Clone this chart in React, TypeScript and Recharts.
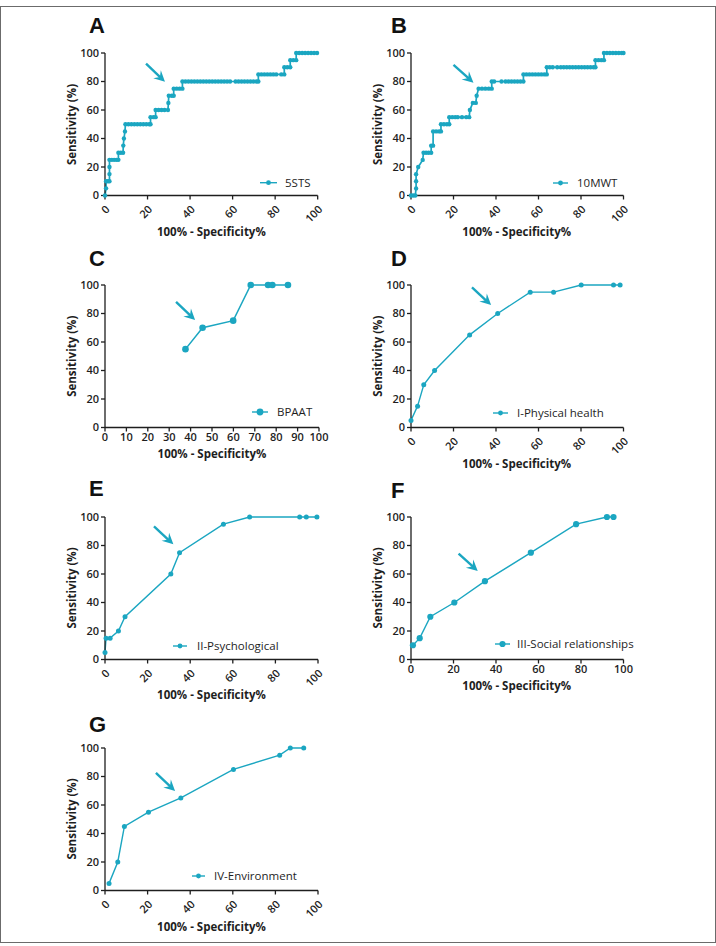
import React from 'react';
import { LineChart, Line, XAxis, YAxis, ReferenceLine } from 'recharts';

const CYAN = '#1ba6c1';
const INK = '#1e1e1e';
const SANS = '"Open Sans", "Noto Sans", sans-serif';

// A – 5STS (false-positive rate %, sensitivity %)
const stsFpr = [
  0, 0.5, 0.5, 1.4, 2.1, 2.1, 2.1, 2.1, 3.2, 4.3, 5.4, 6.3, 6.3, 7.4, 8.5, 8.6, 8.9, 9.4,
  9.6, 11.0, 12.4, 13.8, 15.2, 16.6, 18.0, 19.4, 20.8, 21.4, 21.4, 22.8, 23.8, 23.8, 25.2,
  26.6, 28.0, 29.6, 29.8, 30.0, 31.4, 32.3, 32.3, 33.7, 35.1, 36.4, 36.4, 37.8, 39.2, 40.6,
  42.0, 43.4, 44.8, 46.2, 47.6, 49.0, 50.4, 51.8, 53.2, 54.6, 56.0, 57.4, 58.8, 61.4, 62.8,
  64.2, 65.6, 67.0, 68.4, 69.8, 71.2, 72.1, 72.1, 73.5, 74.9, 76.3, 77.7, 79.1, 80.5, 82.9,
  84.3, 84.3, 85.7, 87.1, 87.1, 88.5, 89.9, 89.9, 91.3, 92.7, 94.1, 95.5, 96.9, 98.3, 99.7,
];
const stsSens = [
  0, 5, 10, 10, 10, 15, 20, 25, 25, 25, 25, 25, 30, 30, 30, 35, 40, 45,
  50, 50, 50, 50, 50, 50, 50, 50, 50, 50, 55, 55, 55, 60, 60,
  60, 60, 60, 65, 70, 70, 70, 75, 75, 75, 75, 80, 80, 80, 80,
  80, 80, 80, 80, 80, 80, 80, 80, 80, 80, 80, 80, 80, 80, 80,
  80, 80, 80, 80, 80, 80, 80, 85, 85, 85, 85, 85, 85, 85, 85,
  85, 90, 90, 90, 95, 95, 95, 100, 100, 100, 100, 100, 100, 100, 100,
];

// B – 10MWT
const mwtFpr = [
  0, 1.0, 2.0, 2.4, 2.4, 2.4, 3.4, 5.5, 5.9, 7.1, 8.3, 9.5, 9.5, 10.4, 10.4, 11.8, 13.2,
  14.1, 14.1, 15.5, 16.9, 18.0, 18.0, 19.4, 20.8, 22.0, 24.0, 26.0, 27.4, 27.7, 29.1, 30.5,
  30.9, 31.8, 33.4, 35.0, 36.6, 38.0, 38.0, 39.1, 42.6, 44.5, 45.9, 47.3, 48.7, 50.1, 51.5,
  52.9, 52.9, 54.3, 55.7, 57.1, 58.5, 59.9, 61.3, 62.7, 63.9, 63.9, 65.3, 66.7, 68.8, 70.5,
  71.9, 73.3, 74.7, 76.1, 77.5, 78.9, 80.3, 81.7, 83.1, 84.5, 85.9, 86.8, 86.8, 88.2, 89.6,
  90.8, 90.8, 92.2, 93.6, 95.0, 96.4, 97.8, 99.2, 100,
];
const mwtSens = [
  0, 0, 0, 5, 10, 15, 20, 25, 30, 30, 30, 30, 35, 35, 45, 45, 45,
  45, 50, 50, 50, 50, 55, 55, 55, 55, 55, 55, 55, 60, 65, 65,
  70, 75, 75, 75, 75, 75, 80, 80, 80, 80, 80, 80, 80, 80, 80,
  80, 85, 85, 85, 85, 85, 85, 85, 85, 85, 90, 90, 90, 90, 90,
  90, 90, 90, 90, 90, 90, 90, 90, 90, 90, 90, 90, 95, 95, 95,
  95, 100, 100, 100, 100, 100, 100, 100, 100,
];

// C – BPAAT
const bpaatFpr = [37.6, 45.6, 59.9, 68.1, 76.2, 78.2, 85.5];
const bpaatSens = [55, 70, 75, 100, 100, 100, 100];

// D – WHOQOL domain I, physical health
const physFpr = [0, 3.1, 6.0, 11.1, 27.6, 40.8, 56.1, 67.1, 80.1, 95.3, 98.4];
const physSens = [5, 15, 30, 40, 65, 80, 95, 95, 100, 100, 100];

// E – domain II, psychological
const psyFpr = [0, 0.5, 2.4, 6.3, 9.4, 30.9, 35.0, 55.6, 67.9, 91.4, 94.5, 99.5];
const psySens = [5, 15, 15, 20, 30, 60, 75, 95, 100, 100, 100, 100];

// F – domain III, social relationships
const socFpr = [0.9, 4.1, 9.1, 20.4, 34.8, 56.4, 77.7, 92.2, 95.3];
const socSens = [10, 15, 30, 40, 55, 75, 95, 100, 100];

// G – domain IV, environment
const envFpr = [1.9, 6.0, 9.1, 20.4, 35.6, 60.3, 82.0, 87.0, 93.3];
const envSens = [5, 20, 45, 55, 65, 85, 95, 100, 100];

const ticksBy20 = [0, 20, 40, 60, 80, 100];
const ticksBy10 = [0, 10, 20, 30, 40, 50, 60, 70, 80, 90, 100];

const zip = (xs: number[], ys: number[]) => xs.map((x, i) => ({ x, y: ys[i] }));

// Arrow drawn between the two ends of a reference segment, head at the second end.
const ArrowShape = (p: any) => {
  const { x1, y1, x2, y2 } = p;
  const dx = x2 - x1;
  const dy = y2 - y1;
  const len = Math.hypot(dx, dy) || 1;
  const ux = dx / len;
  const uy = dy / len;
  const nx = -uy;
  const ny = ux;
  const head = 11;
  const half = 5.5;
  const notch = 7;
  const bx = x2 - ux * head;
  const by = y2 - uy * head;
  const pts = [
    [x2, y2],
    [bx + nx * half, by + ny * half],
    [x2 - ux * notch, y2 - uy * notch],
    [bx - nx * half, by - ny * half],
  ]
    .map((q) => q.join(','))
    .join(' ');
  return (
    <g>
      <line x1={x1} y1={y1} x2={x2 - ux * 6} y2={y2 - uy * 6} stroke={CYAN} strokeWidth={2.4} />
      <polygon points={pts} fill={CYAN} />
    </g>
  );
};

type Panel = {
  id: string;
  letter: string;
  name: string;
  fpr: number[];
  sens: number[];
  left: number;
  top: number;
  plotW: number;
  xTicks: number[];
  rotate: boolean;
  dotR: number;
  lineW: number;
  arrow: [number, number, number, number];
  letterPos: [number, number];
  yTitleX: number;
  xTitleY: number;
  legend: [number, number, number, number];
  legendDot: number;
};

const PLOT_H = 142.5;
const M_TOP = 10;
const M_RIGHT = 20;
const Y_W = 60;
const X_H = 45;

const panels: Panel[] = [
  {
    id: 'a', letter: 'A', name: '5STS', fpr: stsFpr, sens: stsSens,
    left: 45, top: 43.3, plotW: 212.7, xTicks: ticksBy20, rotate: true, dotR: 2.2, lineW: 1.7,
    arrow: [19.3, 92.5, 28.2, 79.8], letterPos: [89, 33.4], yTitleX: 75.5, xTitleY: 236,
    legend: [260, 277, 182.7, 285], legendDot: 2.4,
  },
  {
    id: 'b', letter: 'B', name: '10MWT', fpr: mwtFpr, sens: mwtSens,
    left: 350.5, top: 43.3, plotW: 212.5, xTicks: ticksBy20, rotate: true, dotR: 2.2, lineW: 1.7,
    arrow: [20.0, 91.6, 29.4, 79.2], letterPos: [391, 33.4], yTitleX: 382, xTitleY: 236,
    legend: [553, 568, 183, 577], legendDot: 2.4,
  },
  {
    id: 'c', letter: 'C', name: 'BPAAT', fpr: bpaatFpr, sens: bpaatSens,
    left: 45, top: 275, plotW: 214, xTicks: ticksBy10, rotate: false, dotR: 3.3, lineW: 1.5,
    arrow: [33.2, 88.2, 42.1, 75.4], letterPos: [89, 266], yTitleX: 75.5, xTitleY: 458,
    legend: [252, 268, 412, 277], legendDot: 3.4,
  },
  {
    id: 'd', letter: 'D', name: 'I-Physical health', fpr: physFpr, sens: physSens,
    left: 350.5, top: 275, plotW: 212.5, xTicks: ticksBy20, rotate: true, dotR: 2.5, lineW: 1.4,
    arrow: [28.7, 98.4, 37.7, 85.9], letterPos: [391, 266], yTitleX: 382, xTitleY: 468,
    legend: [493, 508, 413, 517], legendDot: 2.4,
  },
  {
    id: 'e', letter: 'E', name: 'II-Psychological', fpr: psyFpr, sens: psySens,
    left: 45, top: 506.7, plotW: 213, xTicks: ticksBy20, rotate: true, dotR: 2.5, lineW: 1.4,
    arrow: [23.0, 93.5, 32.1, 80.8], letterPos: [89, 496], yTitleX: 75.5, xTitleY: 699,
    legend: [173, 187, 646, 197], legendDot: 2.4,
  },
  {
    id: 'f', letter: 'F', name: 'III-Social relationships', fpr: socFpr, sens: socSens,
    left: 350.5, top: 506.7, plotW: 212.5, xTicks: ticksBy20, rotate: false, dotR: 3.1, lineW: 1.4,
    arrow: [22.4, 74.3, 31.4, 62.1], letterPos: [391, 498], yTitleX: 382, xTitleY: 690,
    legend: [495, 510, 644, 517], legendDot: 3.1,
  },
  {
    id: 'g', letter: 'G', name: 'IV-Environment', fpr: envFpr, sens: envSens,
    left: 45, top: 737.7, plotW: 213, xTicks: ticksBy20, rotate: true, dotR: 2.5, lineW: 1.4,
    arrow: [23.9, 82.5, 32.9, 69.8], letterPos: [89, 731.5], yTitleX: 75.5, xTitleY: 931,
    legend: [192, 205, 876, 214], legendDot: 2.4,
  },
];

const tickStyle = { fontSize: 11, fontWeight: 600, fill: INK, fontFamily: SANS };

function RocPanel({ p }: { p: Panel }) {
  const data = zip(p.fpr, p.sens);
  const width = p.plotW + Y_W + M_RIGHT;
  const height = PLOT_H + M_TOP + X_H;
  return (
    <div style={{ position: 'absolute', left: p.left, top: p.top, width, height }}>
      <LineChart
        width={width}
        height={height}
        data={data}
        margin={{ top: M_TOP, right: M_RIGHT, left: 0, bottom: 0 }}
      >
        <XAxis
          type="number"
          dataKey="x"
          domain={[0, 100]}
          ticks={p.xTicks}
          interval={0}
          height={X_H}
          tickSize={4}
          tickMargin={p.rotate ? 5 : 2}
          angle={p.rotate ? -45 : 0}
          textAnchor={p.rotate ? 'end' : 'middle'}
          tick={tickStyle}
          axisLine={{ stroke: INK, strokeWidth: 1.3 }}
          tickLine={{ stroke: INK, strokeWidth: 1.3 }}
        />
        <YAxis
          type="number"
          domain={[0, 100]}
          ticks={ticksBy20}
          interval={0}
          width={Y_W}
          tickSize={4}
          tickMargin={2}
          tick={tickStyle}
          axisLine={{ stroke: INK, strokeWidth: 1.3 }}
          tickLine={{ stroke: INK, strokeWidth: 1.3 }}
        />
        <Line
          type="linear"
          dataKey="y"
          stroke={CYAN}
          strokeWidth={p.lineW}
          dot={{ r: p.dotR, fill: CYAN, stroke: CYAN, strokeWidth: 0 }}
          isAnimationActive={false}
        />
        <ReferenceLine
          segment={[
            { x: p.arrow[0], y: p.arrow[1] },
            { x: p.arrow[2], y: p.arrow[3] },
          ]}
          ifOverflow="visible"
          shape={ArrowShape}
        />
      </LineChart>
    </div>
  );
}

export default function App() {
  return (
    <div
      style={{
        position: 'absolute',
        left: 0,
        top: 0,
        width: 716,
        height: 946,
        background: '#fff',
        overflow: 'hidden',
      }}
    >
      <div
        style={{
          position: 'absolute',
          left: 0,
          top: 6,
          width: 716,
          height: 937,
          boxSizing: 'border-box',
          border: '1.5px solid #6b6b6b',
        }}
      />
      {panels.map((p) => (
        <RocPanel key={p.id} p={p} />
      ))}
      <svg
        width={716}
        height={946}
        style={{ position: 'absolute', left: 0, top: 0, pointerEvents: 'none' }}
      >
        {panels.map((p) => {
          const plotX = p.left + Y_W;
          const plotY = p.top + M_TOP;
          const cx = plotX + p.plotW / 2;
          const cy = plotY + PLOT_H / 2;
          const [l0, l1, ly, tx] = p.legend;
          return (
            <g key={p.id}>
              <text
                x={p.letterPos[0]}
                y={p.letterPos[1]}
                fontFamily='"Liberation Sans", Arial, sans-serif'
                fontWeight={700}
                fontSize={22}
                fill="#111"
              >
                {p.letter}
              </text>
              <text
                transform={`translate(${p.yTitleX},${cy}) rotate(-90)`}
                textAnchor="middle"
                fontFamily={SANS}
                fontWeight={700}
                fontSize={11.5}
                fill={INK}
              >
                Sensitivity (%)
              </text>
              <text
                x={cx}
                y={p.xTitleY}
                textAnchor="middle"
                fontFamily={SANS}
                fontWeight={700}
                fontSize={11.5}
                fill={INK}
              >
                100% - Specificity%
              </text>
              <line x1={l0} x2={l1} y1={ly} y2={ly} stroke={CYAN} strokeWidth={1.4} />
              <circle cx={(l0 + l1) / 2} cy={ly} r={p.legendDot} fill={CYAN} />
              <text x={tx} y={ly + 4.3} fontFamily={SANS} fontSize={11.5} fill={INK}>
                {p.name}
              </text>
            </g>
          );
        })}
      </svg>
    </div>
  );
}
